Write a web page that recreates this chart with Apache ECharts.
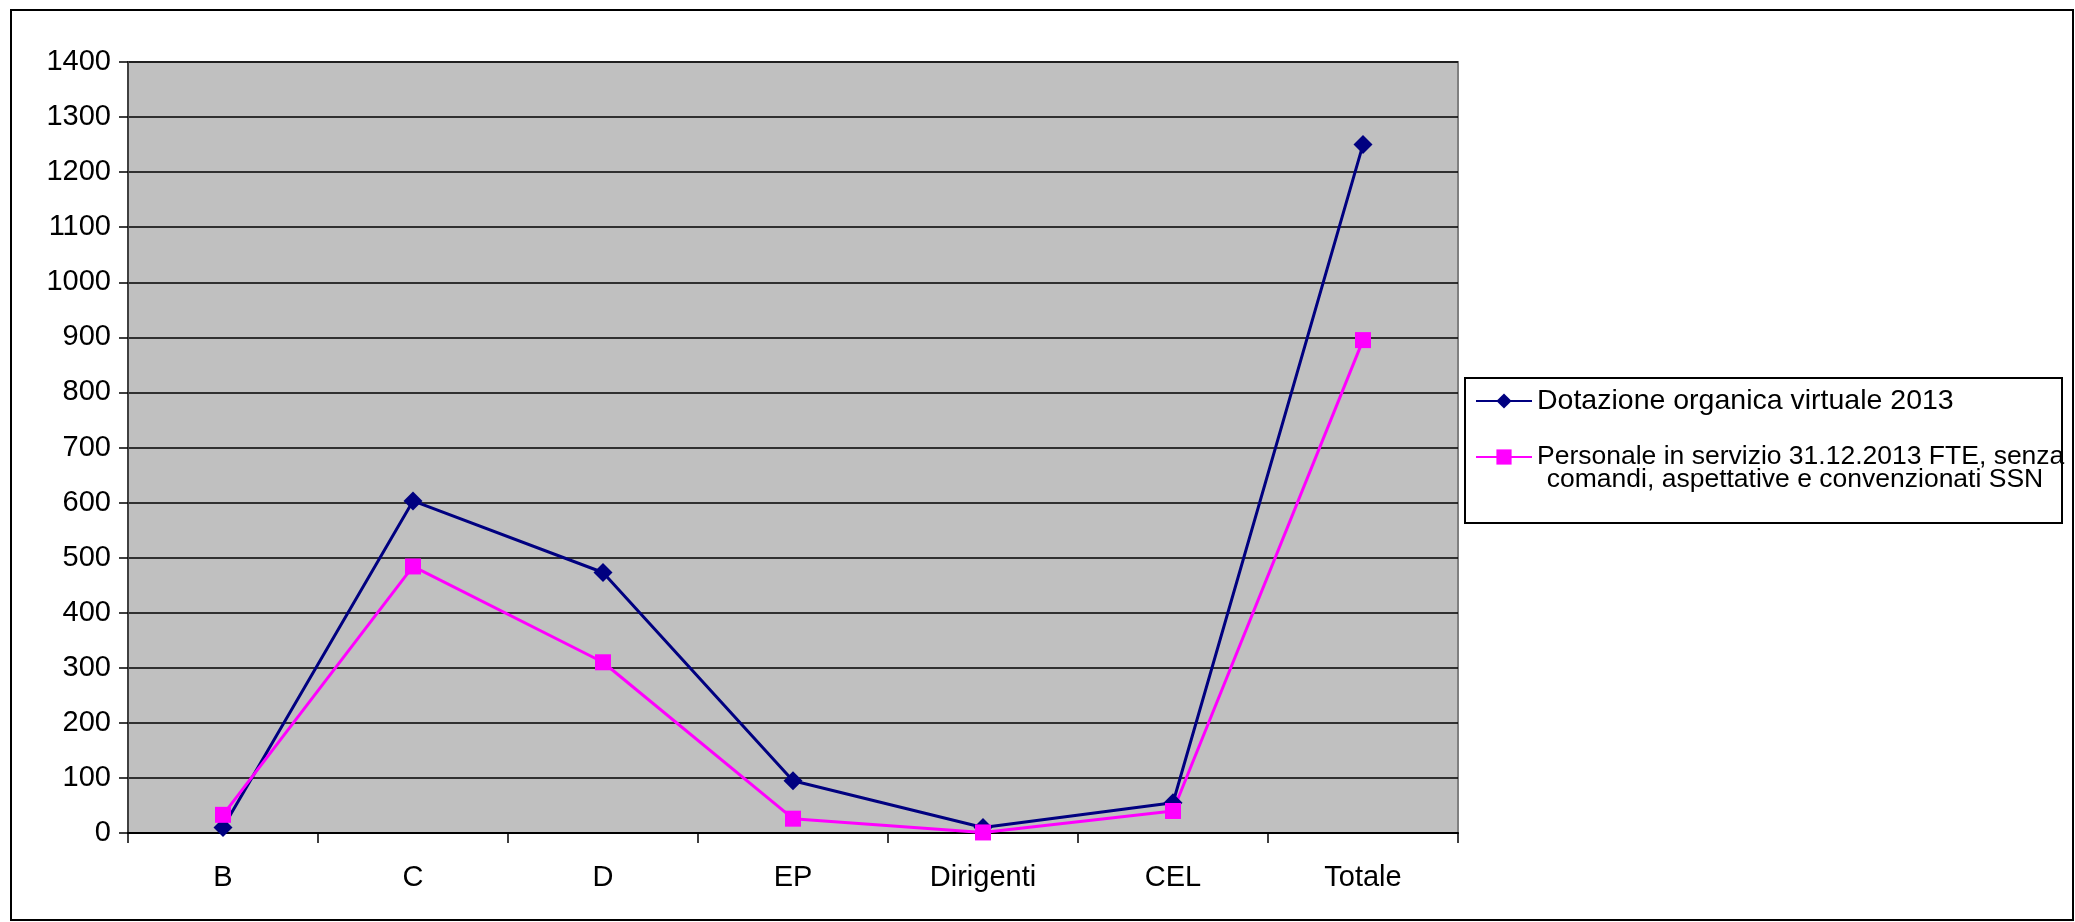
<!DOCTYPE html>
<html>
<head>
<meta charset="utf-8">
<script src="https://cdn.jsdelivr.net/npm/echarts@6/dist/echarts.min.js"></script>
<style>
html,body{margin:0;padding:0;background:#fff;}
#chart{width:2075px;height:922px;}
</style>
</head>
<body>
<div id="chart"></div>
<script>
const categories = ['B', 'C', 'D', 'EP', 'Dirigenti', 'CEL', 'Totale'];
const dotazione = [10, 603, 473, 95, 10, 55, 1250];
const personale = [33, 484, 310, 26, 1, 40, 895];
const seriesNames = ['Dotazione organica virtuale 2013', 'Personale in servizio 31.12.2013 FTE, senza comandi, aspettative e convenzionati SSN'];
const legendFirstLines = ['Dotazione organica virtuale 2013', 'Personale in servizio 31.12.2013 FTE, senza'];
const legendSecondLine = 'comandi, aspettative e convenzionati SSN';

const chart = echarts.init(document.getElementById('chart'));
const font = 'Liberation Sans, Arial, sans-serif';
chart.setOption({
  animation: false,
  backgroundColor: '#ffffff',
  textStyle: { fontFamily: font },
  grid: {
    left: 128, top: 62, width: 1330, height: 771,
    show: true, backgroundColor: '#C0C0C0', borderColor: '#808080', borderWidth: 2,
    containLabel: false
  },
  xAxis: {
    type: 'category',
    data: categories,
    boundaryGap: true,
    axisLine: { lineStyle: { color: '#000', width: 2 } },
    axisTick: { show: true, length: 10, lineStyle: { color: '#000', width: 1.5 } },
    axisLabel: { color: '#000', fontSize: 29, fontFamily: font, margin: 30 },
    splitLine: { show: false }
  },
  yAxis: {
    type: 'value',
    min: 0, max: 1400, interval: 100,
    axisLine: { show: true, lineStyle: { color: '#404040', width: 2 } },
    axisTick: { show: true, length: 9, lineStyle: { color: '#000', width: 1.5 } },
    axisLabel: { color: '#000', fontSize: 29, fontFamily: font, margin: 17, formatter: function (v) { return String(v); } },
    splitLine: { show: true, lineStyle: { color: '#000', width: 1.5 } }
  },
  legend: {
    orient: 'vertical',
    left: 1470, top: 381,
    itemWidth: 56, itemHeight: 19, itemGap: 26,
    data: [
      { name: seriesNames[0], textStyle: { fontSize: 28.5 } },
      { name: seriesNames[1], textStyle: { fontSize: 26.5 } }
    ],
    formatter: function (name) { return legendFirstLines[seriesNames.indexOf(name)]; },
    textStyle: { color: '#000', fontFamily: font, lineHeight: 30 },
    selectedMode: false
  },
  graphic: [
    { type: 'rect', shape: { x: 11, y: 10, width: 2062, height: 910 }, style: { fill: 'none', stroke: '#000', lineWidth: 2 }, silent: true },
    { type: 'rect', shape: { x: 1465, y: 378, width: 597, height: 145 }, style: { fill: 'none', stroke: '#000', lineWidth: 2 }, silent: true },
    { type: 'text', x: 1795, y: 480, style: { text: legendSecondLine, fill: '#000', font: '26.5px Liberation Sans, Arial, sans-serif', textAlign: 'center', textVerticalAlign: 'middle' }, silent: true }
  ],
  series: [
    {
      name: seriesNames[0], type: 'line', data: dotazione,
      symbol: 'diamond', symbolSize: 19,
      lineStyle: { color: '#000080', width: 3 },
      itemStyle: { color: '#000080' }
    },
    {
      name: seriesNames[1], type: 'line', data: personale,
      symbol: 'rect', symbolSize: 16,
      lineStyle: { color: '#FF00FF', width: 3 },
      itemStyle: { color: '#FF00FF' }
    }
  ]
});
</script>
</body>
</html>
